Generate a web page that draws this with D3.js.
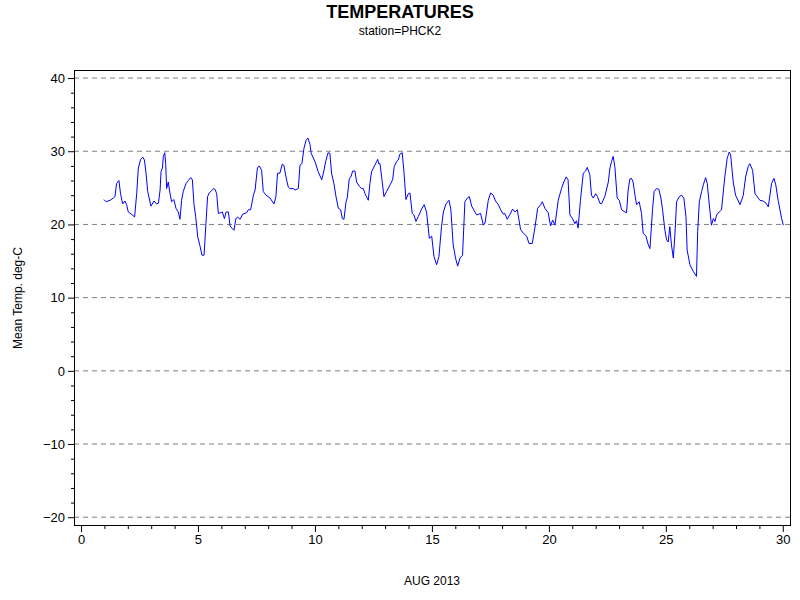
<!DOCTYPE html>
<html><head><meta charset="utf-8">
<script src="https://cdn.jsdelivr.net/npm/d3@7"></script>
<style>body{margin:0;background:#fff;font-family:"Liberation Sans",Arial,sans-serif}</style>
</head><body><svg id="c" width="800" height="600"></svg>
<script>
const days=[0.98,1.07,1.24,1.38,1.45,1.52,1.62,1.69,1.78,1.88,1.95,2.02,2.24,2.29,2.38,2.45,2.55,2.64,2.71,2.78,2.85,2.99,3.12,3.23,3.31,3.38,3.42,3.48,3.52,3.58,3.62,3.66,3.73,3.78,3.87,3.97,4.06,4.16,4.23,4.30,4.37,4.49,4.59,4.69,4.76,4.83,4.90,4.99,5.09,5.17,5.26,5.34,5.41,5.48,5.58,5.66,5.73,5.80,5.87,5.97,6.04,6.13,6.20,6.30,6.37,6.45,6.54,6.62,6.70,6.80,6.91,7.08,7.15,7.25,7.37,7.44,7.54,7.62,7.72,7.79,7.91,8.08,8.25,8.33,8.40,8.50,8.60,8.67,8.76,8.86,8.93,9.07,9.15,9.29,9.36,9.44,9.53,9.62,9.70,9.79,9.84,10.00,10.14,10.29,10.36,10.46,10.56,10.64,
10.71,10.81,10.90,11.00,11.10,11.17,11.24,11.33,11.38,11.47,11.54,11.61,11.71,11.78,11.90,11.99,12.07,12.14,12.28,12.35,12.42,12.56,12.64,12.68,12.72,12.78,12.85,12.95,13.06,13.21,13.32,13.39,13.49,13.56,13.63,13.73,13.80,13.89,13.99,14.06,14.16,14.23,14.32,14.42,14.56,14.67,14.77,14.89,14.99,15.09,15.20,15.30,15.41,15.49,15.60,15.73,15.81,15.91,16.01,16.10,16.20,16.31,16.41,16.51,16.60,16.70,16.91,17.08,17.20,17.27,17.41,17.51,17.62,17.72,17.84,17.94,18.05,18.12,18.22,18.34,18.45,18.55,18.65,18.79,18.91,19.05,19.15,19.29,19.40,19.52,19.65,19.72,19.83,19.97,20.07,20.16,20.26,20.40,20.54,20.64,20.74,20.82,
20.90,21.01,21.11,21.18,21.25,21.35,21.47,21.57,21.64,21.75,21.82,21.90,22.00,22.08,22.18,22.25,22.39,22.54,22.61,22.68,22.75,22.82,22.92,23.01,23.11,23.25,23.32,23.39,23.46,23.53,23.60,23.68,23.75,23.86,23.96,24.03,24.15,24.25,24.32,24.43,24.50,24.60,24.70,24.79,24.86,24.96,25.03,25.10,25.17,25.24,25.32,25.39,25.46,25.57,25.67,25.77,25.86,25.91,26.03,26.17,26.31,26.36,26.43,26.53,26.60,26.70,26.77,26.88,26.95,27.03,27.10,27.17,27.28,27.38,27.52,27.62,27.71,27.77,27.88,27.98,28.17,28.31,28.41,28.52,28.59,28.71,28.81,28.95,29.02,29.16,29.28,29.38,29.45,29.52,29.62,29.70,29.80,29.95,30.02];
const temps=[23.4,23.1,23.3,23.6,23.8,25.6,26.0,24.2,22.8,23.2,22.7,21.7,21.2,21.0,24.2,27.7,28.9,29.2,28.8,27.0,24.5,22.5,23.2,22.8,22.9,24.7,27.2,27.7,29.3,29.8,28.3,24.9,25.8,24.7,23.1,23.4,22.2,21.7,20.7,23.3,24.5,25.6,26.0,26.4,26.1,22.7,21.1,18.3,17.0,15.8,15.8,20.1,23.8,24.3,24.6,24.9,24.8,24.2,21.5,21.6,21.7,20.8,21.7,21.7,19.8,19.5,19.2,20.8,21.0,20.7,21.4,21.6,22.0,22.0,24.0,24.7,27.7,28.0,27.4,24.5,24.0,23.6,22.8,23.8,27.0,27.0,28.2,28.1,26.5,25.1,24.9,24.9,24.7,24.9,28.1,28.3,30.4,31.5,31.8,30.9,29.7,28.6,27.2,26.1,27.0,28.6,29.8,29.7,
27.0,25.6,23.8,22.2,22.0,20.8,20.7,23.1,23.6,26.3,26.5,27.3,27.3,25.8,25.2,24.9,24.9,24.2,23.3,25.6,27.2,28.1,28.6,28.9,28.3,28.3,26.5,23.8,24.5,25.4,26.1,27.9,28.6,28.8,29.6,29.8,27.4,23.4,24.2,24.3,21.5,21.3,20.4,21.1,22.1,22.7,21.7,18.1,18.4,15.6,14.5,15.6,19.7,21.7,22.8,23.3,22.0,17.2,15.4,14.3,15.4,15.8,23.1,23.6,23.8,22.5,21.3,21.5,19.9,20.2,23.3,24.3,24.0,23.2,22.7,22.0,21.4,21.5,20.7,21.4,22.1,21.7,22.0,19.3,18.8,18.4,17.4,17.4,19.5,22.2,22.7,23.1,22.2,21.6,19.8,20.6,19.9,23.3,24.9,25.8,26.5,26.1,
21.3,20.8,20.1,20.5,19.5,23.3,27.0,27.3,27.8,26.8,24.0,23.6,24.2,23.8,22.9,22.8,23.8,25.8,27.7,28.6,29.3,27.9,23.6,23.3,22.0,21.7,21.6,24.7,26.2,26.3,25.8,24.0,22.7,23.1,21.5,18.8,18.4,17.2,16.7,22.0,24.5,24.9,24.8,23.6,22.0,19.2,17.9,17.6,19.7,17.2,15.4,18.8,23.1,23.8,24.0,23.6,21.1,16.5,14.5,13.6,12.9,19.0,23.1,24.5,25.4,26.4,25.6,22.0,19.9,20.8,20.4,21.3,21.7,22.0,26.5,29.0,29.9,29.5,25.8,24.0,22.7,24.0,26.5,27.9,28.3,27.4,24.2,23.6,23.3,23.2,22.9,22.4,24.0,25.6,26.3,25.4,23.3,20.8,19.9];
const xTicks=[0,5,10,15,20,25,30];
const yTicks=[-20,-10,0,10,20,30,40];

const svg=d3.select("#c");
const L=74,R=791,T=70,B=526;
const x=d3.scaleLinear().domain([-0.3,30.35]).range([L,R]);
const y=d3.scaleLinear().domain([-21.2,41.1]).range([B,T]);

svg.append("g").selectAll("line").data(yTicks).join("line")
 .attr("x1",L).attr("x2",R).attr("y1",d=>y(d)).attr("y2",d=>y(d))
 .attr("stroke","#808080").attr("stroke-dasharray","5,4").attr("stroke-width",1);

const data=days.map((d,i)=>[d,temps[i]]);
svg.append("path").datum(data).attr("fill","none").attr("stroke","#0000ff").attr("stroke-width",1)
 .attr("d",d3.line().x(d=>x(d[0])).y(d=>y(d[1])));

svg.append("rect").attr("x",L+0.5).attr("y",T+0.5).attr("width",R-L-1).attr("height",B-T-1)
 .attr("fill","none").attr("stroke","#000");

const ya=svg.append("g").attr("transform",`translate(${L},0)`)
 .call(d3.axisLeft(y).tickValues(yTicks).tickSize(6).tickPadding(3));
const yMinor=d3.range(-20,41,2).filter(v=>v%10!==0);
svg.append("g").attr("transform",`translate(${L},0)`)
 .call(d3.axisLeft(y).tickValues(yMinor).tickSize(3).tickFormat(""));
const xa=svg.append("g").attr("transform",`translate(0,${B})`)
 .call(d3.axisBottom(x).tickValues(xTicks).tickSize(6).tickPadding(3));
svg.append("g").attr("transform",`translate(0,${B})`)
 .call(d3.axisBottom(x).tickValues(d3.range(0,31).filter(v=>v%5!==0)).tickSize(3).tickFormat(""));
svg.selectAll(".domain").remove();
svg.selectAll(".tick text").attr("font-size",13).attr("font-family","Liberation Sans, Arial").attr("fill","#000");
svg.selectAll(".tick line").attr("stroke","#000");

svg.append("text").attr("x",400).attr("y",18).attr("text-anchor","middle")
 .attr("font-size",18).attr("font-weight","bold").text("TEMPERATURES");
svg.append("text").attr("x",400).attr("y",35).attr("text-anchor","middle")
 .attr("font-size",12).text("station=PHCK2");
svg.append("text").attr("transform","translate(22,298) rotate(-90)").attr("text-anchor","middle")
 .attr("font-size",12).text("Mean Temp. deg-C");
svg.append("text").attr("x",432).attr("y",585).attr("text-anchor","middle")
 .attr("font-size",12).text("AUG 2013");
</script></body></html>
